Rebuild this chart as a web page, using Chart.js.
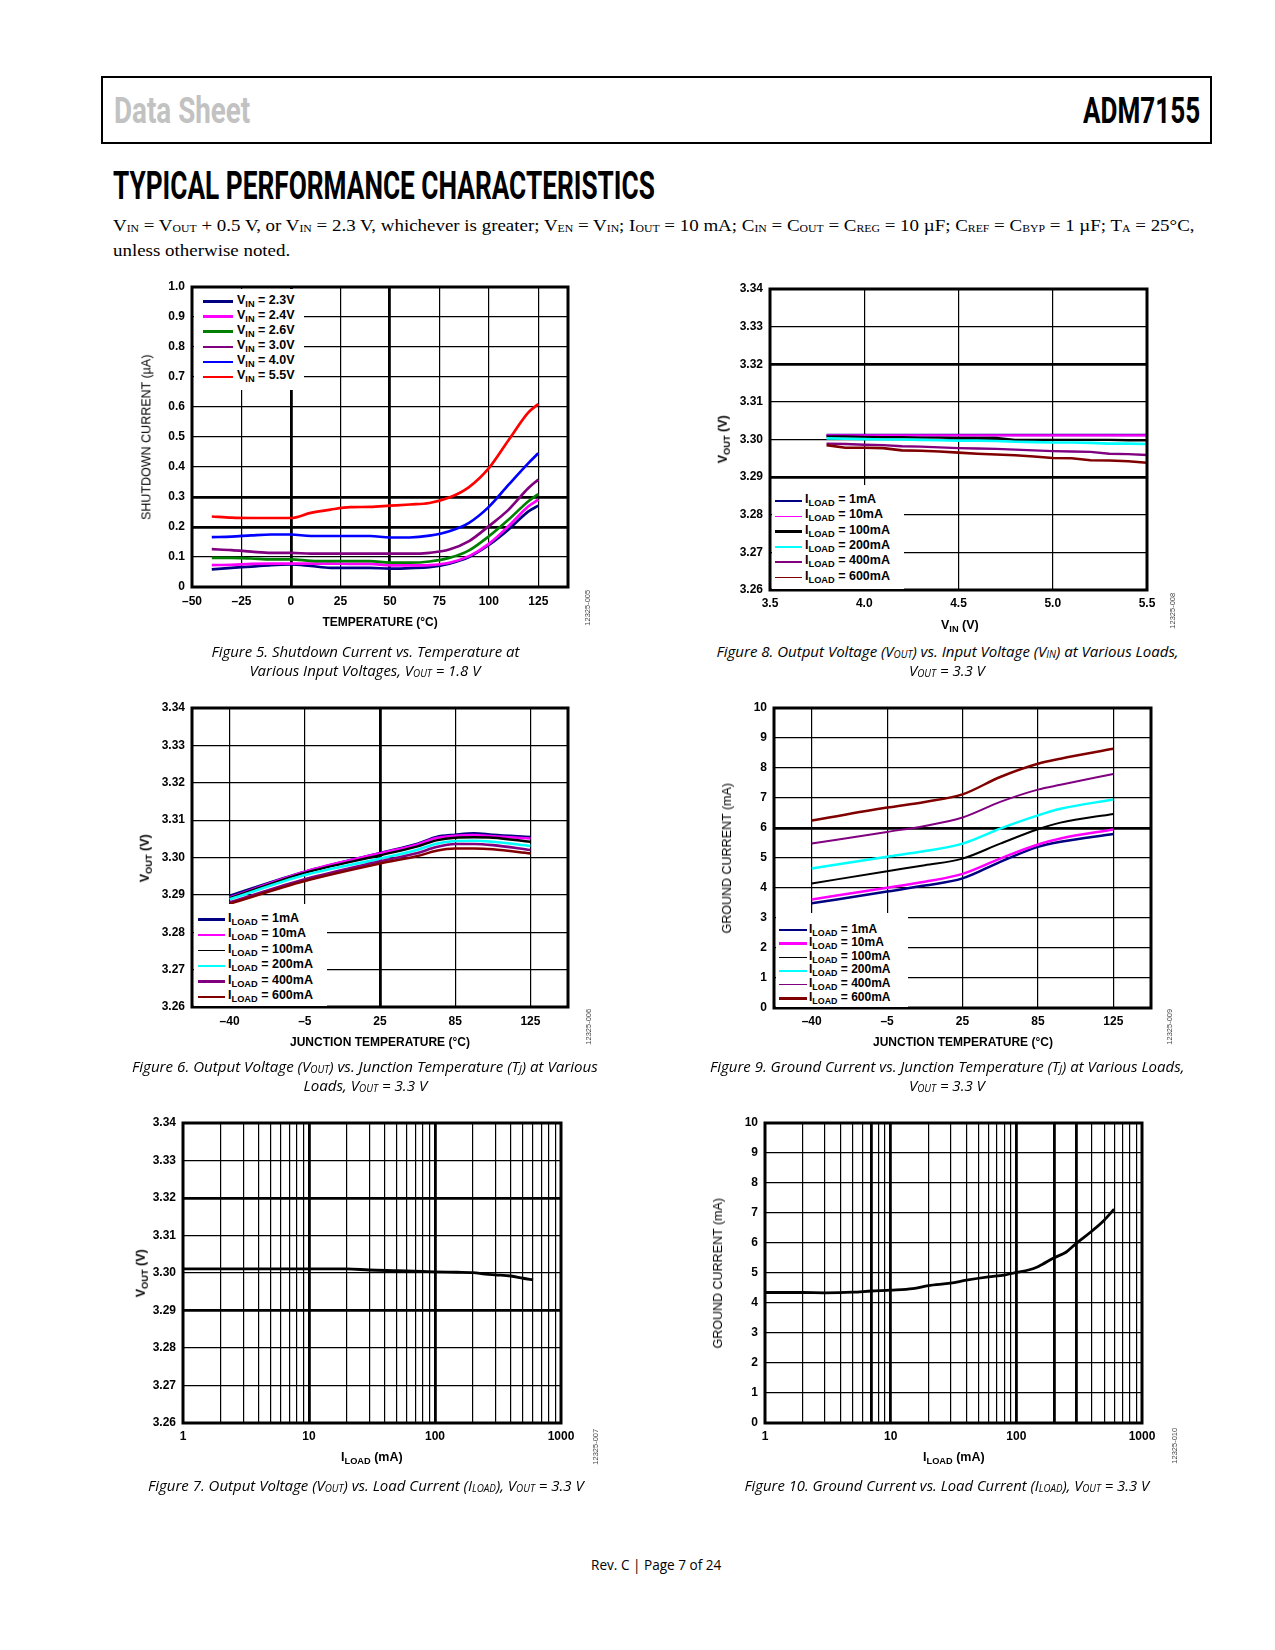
<!DOCTYPE html>
<html><head><meta charset="utf-8">
<script src="https://cdn.jsdelivr.net/npm/chart.js@4.4.1/dist/chart.umd.min.js"></script>
<style>
html,body{margin:0;padding:0;background:#fff;}
#page{position:relative;width:1275px;height:1650px;overflow:hidden;background:#fff;}
.abs{position:absolute;white-space:nowrap;line-height:1;}
.chart{position:absolute;}
.s{font-size:0.74em;vertical-align:-0.3em;line-height:0;}
.cs{font-size:0.66em;vertical-align:-0.1em;line-height:0;}
.ts{font-size:0.62em;vertical-align:-0.06em;line-height:0;}
.legend{position:absolute;background:#fff;}
</style></head><body><div id="page"></div>
<script>
// ---------------- DATA ----------------
// Figure 5: shutdown current (uA) vs temperature (C)
const F5_TEMP = [-40,-30,-20,-10,0,10,20,30,40,50,60,70,80,90,100,110,120,125];
const F5_VIN_2V3 = [0.059,0.064,0.068,0.073,0.075,0.070,0.064,0.064,0.064,0.061,0.063,0.066,0.078,0.100,0.140,0.192,0.252,0.271];
const F5_VIN_2V4 = [0.073,0.074,0.077,0.078,0.078,0.078,0.078,0.077,0.077,0.072,0.072,0.073,0.081,0.103,0.144,0.203,0.269,0.291];
const F5_VIN_2V6 = [0.097,0.097,0.095,0.092,0.092,0.087,0.086,0.086,0.086,0.081,0.081,0.085,0.097,0.122,0.169,0.225,0.286,0.310];
const F5_VIN_3V0 = [0.126,0.123,0.118,0.114,0.114,0.111,0.111,0.111,0.111,0.111,0.111,0.114,0.125,0.153,0.203,0.258,0.330,0.358];
const F5_VIN_4V0 = [0.166,0.168,0.172,0.175,0.175,0.170,0.170,0.170,0.170,0.165,0.165,0.171,0.186,0.214,0.267,0.341,0.413,0.446];
const F5_VIN_5V5 = [0.235,0.231,0.230,0.230,0.230,0.247,0.258,0.266,0.267,0.271,0.275,0.280,0.298,0.333,0.396,0.490,0.582,0.610];
const F5_NAMES = ['2.3V','2.4V','2.6V','3.0V','4.0V','5.5V'];
const F5_XTICKS = [-50,-25,0,25,50,75,100,125];
const F5_YTICKS = [0,0.1,0.2,0.3,0.4,0.5,0.6,0.7,0.8,0.9,1.0];

// Figure 8: VOUT (V) vs VIN (V)
const F8_VIN = [3.8,3.9,4.0,4.1,4.2,4.3,4.4,4.5,4.6,4.7,4.8,4.9,5.0,5.1,5.2,5.3,5.4,5.5];
const F8_1MA   = [3.3012,3.3012,3.3012,3.3012,3.3012,3.3012,3.3012,3.3012,3.3012,3.3012,3.3012,3.3012,3.3012,3.3012,3.3012,3.3012,3.3012,3.3012];
const F8_10MA  = [3.3011,3.3011,3.3011,3.3011,3.3011,3.3011,3.3011,3.3011,3.3011,3.3011,3.3011,3.3011,3.3011,3.3011,3.3011,3.3011,3.3011,3.3011];
const F8_100MA = [3.3008,3.3008,3.3007,3.3006,3.3006,3.3005,3.3005,3.3004,3.3004,3.3004,3.2999,3.2999,3.2999,3.2999,3.2999,3.2999,3.2998,3.2998];
const F8_200MA = [3.3003,3.3002,3.3001,3.3000,3.3000,3.2999,3.2998,3.2997,3.2997,3.2996,3.2994,3.2993,3.2992,3.2992,3.2991,3.2989,3.2989,3.2988];
const F8_400MA = [3.2989,3.2988,3.2986,3.2985,3.2982,3.2981,3.2979,3.2977,3.2976,3.2975,3.2973,3.2971,3.2969,3.2968,3.2967,3.2962,3.2961,3.2959];
const F8_600MA = [3.2985,3.2978,3.2978,3.2977,3.2971,3.2970,3.2968,3.2965,3.2962,3.2960,3.2958,3.2955,3.2951,3.2950,3.2945,3.2944,3.2942,3.2938];
const LOAD_NAMES = ['1mA','10mA','100mA','200mA','400mA','600mA'];
const F8_XTICKS = [3.5,4.0,4.5,5.0,5.5];
const VOUT_YTICKS = [3.26,3.27,3.28,3.29,3.30,3.31,3.32,3.33,3.34];

// Figure 6: VOUT (V) vs junction temperature (position along the evenly spaced TJ axis)
const TJ_LABELS = ['\u201340','\u20135','25','85','125'];
const TJ_TICKS = [0,1,2,3,4];
const F6_POS = [0,1,2,2.5,2.75,3,3.25,3.5,4];
const F6_1MA   = [3.2898,3.2962,3.3012,3.3037,3.3055,3.3061,3.3065,3.3061,3.3055];
const F6_10MA  = [3.2893,3.2962,3.3011,3.3035,3.3052,3.3058,3.3060,3.3057,3.3051];
const F6_100MA = [3.2891,3.2959,3.3006,3.3030,3.3046,3.3053,3.3054,3.3053,3.3042];
const F6_200MA = [3.2888,3.2953,3.2997,3.3021,3.3037,3.3044,3.3045,3.3042,3.3031];
const F6_400MA = [3.2880,3.2942,3.2990,3.3012,3.3028,3.3036,3.3036,3.3033,3.3020];
const F6_600MA = [3.2876,3.2937,3.2984,3.3004,3.3018,3.3024,3.3024,3.3022,3.3011];

// Figure 9: ground current (mA) vs junction temperature
const F9_POS = [0,1,1.5,2,2.5,3,3.3,4];
const F9_1MA   = [3.49,3.88,4.08,4.32,4.87,5.37,5.54,5.80];
const F9_10MA  = [3.62,4.01,4.21,4.47,4.98,5.45,5.65,5.95];
const F9_100MA = [4.15,4.56,4.76,4.98,5.48,5.96,6.18,6.47];
const F9_200MA = [4.65,5.04,5.23,5.48,5.98,6.42,6.64,6.95];
const F9_400MA = [5.48,5.87,6.07,6.35,6.87,7.28,7.44,7.80];
const F9_600MA = [6.25,6.68,6.87,7.12,7.70,8.14,8.31,8.64];
const GND_YTICKS = [0,1,2,3,4,5,6,7,8,9,10];

// Figure 7: VOUT (V) vs ILOAD (mA)
const F7_LOAD = [1,2,5,10,20,30,50,80,100,150,200,250,300,400,500,600];
const F7_VOUT = [3.3011,3.3011,3.3011,3.3011,3.3011,3.3008,3.3006,3.3004,3.3003,3.3002,3.3001,3.2997,3.2995,3.2992,3.2986,3.2982];

// Figure 10: ground current (mA) vs ILOAD (mA)
const F10_LOAD = [1,2,3,5,7,10,15,20,30,40,60,80,100,125,150,200,250,300,400,500,600];
const F10_IGND = [4.35,4.35,4.34,4.36,4.40,4.43,4.48,4.58,4.66,4.76,4.87,4.93,5.02,5.10,5.22,5.51,5.70,5.99,6.40,6.76,7.13];
const LOG_TICKS = [1,2,3,4,5,6,7,8,9,10,20,30,40,50,60,70,80,90,100,200,300,400,500,600,700,800,900,1000];
const LOG_LABELS = [1,10,100,1000];

// ---------------- HELPERS ----------------
const page = document.getElementById('page');
const AR = "'Liberation Sans', Arial, sans-serif";
Chart.defaults.font.family = AR;
Chart.defaults.color = '#000';

function addText(html, o) {
  const d = document.createElement('div');
  d.className = 'abs';
  d.innerHTML = html;
  const st = d.style;
  st.fontFamily = o.font || AR;
  st.fontSize = (o.size || 12) + 'px';
  st.fontWeight = o.weight || 'normal';
  st.fontStyle = o.italic ? 'italic' : 'normal';
  st.color = o.color || '#000';
  page.appendChild(d);
  const w = d.offsetWidth, h = d.offsetHeight;
  const k = o.w ? o.w / w : (o.k || 1);
  const left = o.anchor === 'left' ? o.x : o.x - w / 2;
  st.left = left + 'px';
  st.top = (o.y - h / 2) + 'px';
  st.transformOrigin = o.anchor === 'left' ? '0 50%' : '50% 50%';
  const parts = [];
  if (o.rotate) parts.push('rotate(' + o.rotate + 'deg)');
  if (k !== 1) parts.push('scaleX(' + k + ')');
  st.transform = parts.join(' ');
  return k;
}

const near = (a, b) => Math.abs(a - b) < 1e-9;
const framePlugin = {
  id: 'frame',
  afterDatasetsDraw(chart) {
    const { ctx, chartArea: a } = chart;
    ctx.save();
    ctx.strokeStyle = '#000';
    ctx.lineWidth = 3;
    ctx.strokeRect(a.left, a.top, a.right - a.left, a.bottom - a.top);
    ctx.restore();
  }
};

function series(xs, ys, color, width, tension) {
  return { data: xs.map((x, i) => ({ x: x, y: ys[i] })), borderColor: color, backgroundColor: color,
    borderWidth: width, pointRadius: 0, fill: false,
    tension: tension, cubicInterpolationMode: tension ? 'monotone' : 'default' };
}

function makeChart(o) {
  const padL = 70, padT = 10, padR = 26, padB = 40;
  const div = document.createElement('div');
  div.className = 'chart';
  Object.assign(div.style, { left: (o.L - padL) + 'px', top: (o.T - padT) + 'px',
    width: (o.R - o.L + padL + padR) + 'px', height: (o.B - o.T + padT + padB) + 'px' });
  const cv = document.createElement('canvas');
  div.appendChild(cv);
  page.appendChild(div);
  const n = o.datasets.length;
  o.datasets.forEach((d, i) => { d.order = n - i; });
  const tickFont = { family: AR, size: 12, weight: 'bold' };
  const zero = s => { s.paddingLeft = 0; s.paddingRight = 0; s.paddingTop = 0; s.paddingBottom = 0; };
  new Chart(cv, {
    type: 'line',
    data: { datasets: o.datasets },
    options: {
      responsive: true, maintainAspectRatio: false, animation: false,
      layout: { padding: { left: 0, top: padT, right: padR, bottom: 0 } },
      plugins: { legend: { display: false }, tooltip: { enabled: false } },
      scales: {
        x: {
          type: o.xType || 'linear', min: o.xMin, max: o.xMax,
          afterBuildTicks: s => { s.ticks = o.xTicks.map(v => ({ value: v })); s.min = o.xMin; s.max = o.xMax; },
          afterFit: s => { s.height = padB; zero(s); },
          ticks: { callback: o.xLabel, font: tickFont, color: '#000', padding: o.xPad || 6,
            autoSkip: false, maxRotation: 0, minRotation: 0 },
          grid: { color: '#000', drawTicks: false,
            lineWidth: c => (c.tick && o.xBold.some(b => near(b, c.tick.value))) ? 2.8 : 1.2 },
          border: { display: false }
        },
        y: {
          type: 'linear', min: o.yMin, max: o.yMax,
          afterBuildTicks: s => { s.ticks = o.yTicks.map(v => ({ value: v })); s.min = o.yMin; s.max = o.yMax; },
          afterFit: s => { s.width = padL; zero(s); },
          ticks: { callback: o.yLabel, font: tickFont, color: '#000', padding: 7, autoSkip: false },
          grid: { color: '#000', drawTicks: false,
            lineWidth: c => (c.tick && o.yBold.some(b => near(b, c.tick.value))) ? 2.8 : 1.2 },
          border: { display: false }
        }
      }
    },
    plugins: [framePlugin]
  });
}

function addLegend(o) {
  const box = document.createElement('div');
  box.className = 'legend';
  Object.assign(box.style, { left: o.x0 + 'px', top: o.y0 + 'px', width: (o.x1 - o.x0) + 'px', height: (o.y1 - o.y0) + 'px' });
  page.appendChild(box);
  o.rows.forEach((r, i) => {
    const y = o.rowY0 + i * o.dy;
    const ln = document.createElement('div');
    Object.assign(ln.style, { position: 'absolute', left: o.sx0 + 'px', top: (y - r.w / 2) + 'px',
      width: (o.sx1 - o.sx0) + 'px', height: r.w + 'px', background: r.color });
    page.appendChild(ln);
    addText(r.html, { x: o.tx, y: y - 1.5, anchor: 'left', size: o.size, weight: 'bold' });
  });
}

const C = { navy: '#000080', mag: '#ff00ff', green: '#008000', purple: '#800080', blue: '#0000ff', red: '#ff0000',
  black: '#000000', cyan: '#00ffff', brown: '#800000' };
const vLbl = v => v.toFixed(2);
const intLbl = v => String(v);
const logLbl = v => LOG_LABELS.includes(v) ? String(v) : '';
const tjLbl = v => TJ_LABELS[v];
const iload = n => 'I<span class="s">LOAD</span> = ' + n;

// ---------------- HEADER ----------------
const hb = document.createElement('div');
Object.assign(hb.style, { position: 'absolute', left: '101px', top: '76px', width: '1111px', height: '68px',
  border: '2px solid #000', boxSizing: 'border-box' });
page.appendChild(hb);
addText('Data Sheet', { x: 114, y: 110.5, anchor: 'left', size: 37, weight: 'bold', font: 'Roboto, sans-serif', color: '#c2c2c2', w: 136 });
addText('ADM7155', { x: 1083, y: 110.5, anchor: 'left', size: 37, weight: 'bold', font: 'Roboto, sans-serif', w: 117 });
addText('TYPICAL PERFORMANCE CHARACTERISTICS', { x: 113, y: 186, anchor: 'left', size: 38, weight: 'bold', font: 'Roboto, sans-serif', w: 542 });
const SER = "'Liberation Serif', 'Times New Roman', serif";
const kSub = addText('V<span class="ts">IN</span> = V<span class="ts">OUT</span> + 0.5 V, or V<span class="ts">IN</span> = 2.3 V, whichever is greater; V<span class="ts">EN</span> = V<span class="ts">IN</span>; I<span class="ts">OUT</span> = 10 mA; C<span class="ts">IN</span> = C<span class="ts">OUT</span> = C<span class="ts">REG</span> = 10 \u00b5F; C<span class="ts">REF</span> = C<span class="ts">BYP</span> = 1 \u00b5F; T<span class="ts">A</span> = 25\u00b0C,',
  { x: 113, y: 226, anchor: 'left', size: 17.5, font: SER, w: 1082 });
addText('unless otherwise noted.', { x: 113, y: 251, anchor: 'left', size: 17.5, font: SER, k: kSub });

// ---------------- FIGURE 5 ----------------
makeChart({ L: 192, T: 287, R: 568, B: 587, xMin: -50, xMax: 140, yMin: 0, yMax: 1.0,
  xTicks: F5_XTICKS, yTicks: F5_YTICKS, xBold: [0, 50], yBold: [0.2, 0.3], xPad: 7,
  xLabel: v => v < 0 ? '\u2013' + Math.abs(v) : String(v), yLabel: v => v === 0 ? '0' : v.toFixed(1),
  datasets: [
    series(F5_TEMP, F5_VIN_2V3, C.navy, 2.7, 0.3), series(F5_TEMP, F5_VIN_2V4, C.mag, 2.7, 0.3),
    series(F5_TEMP, F5_VIN_2V6, C.green, 2.7, 0.3), series(F5_TEMP, F5_VIN_3V0, C.purple, 2.7, 0.3),
    series(F5_TEMP, F5_VIN_4V0, C.blue, 2.7, 0.3), series(F5_TEMP, F5_VIN_5V5, C.red, 2.7, 0.3)] });
addLegend({ x0: 193.5, y0: 288.5, x1: 304, y1: 390, sx0: 203, sx1: 233, tx: 237, rowY0: 301.5, dy: 15.1, size: 12.5,
  rows: [C.navy, C.mag, C.green, C.purple, C.blue, C.red].map((c, i) => ({ color: c, w: 2.6, html: 'V<span class="s">IN</span> = ' + F5_NAMES[i] })) });
addText('SHUTDOWN CURRENT (\u00b5A)', { x: 146, y: 437, size: 12.5, rotate: -90, color: '#000' });
addText('TEMPERATURE (\u00b0C)', { x: 380, y: 622, size: 12, weight: 'bold' });

// ---------------- FIGURE 8 ----------------
makeChart({ L: 770, T: 289, R: 1147, B: 590, xMin: 3.5, xMax: 5.5, yMin: 3.26, yMax: 3.34,
  xTicks: F8_XTICKS, yTicks: VOUT_YTICKS, xBold: [], yBold: [3.29, 3.32],
  xLabel: v => v.toFixed(1), yLabel: vLbl,
  datasets: [
    series(F8_VIN, F8_1MA, C.navy, 2.6, 0), series(F8_VIN, F8_10MA, C.mag, 2.4, 0),
    series(F8_VIN, F8_100MA, C.black, 2.4, 0), series(F8_VIN, F8_200MA, C.cyan, 2.6, 0),
    series(F8_VIN, F8_400MA, C.purple, 2.4, 0), series(F8_VIN, F8_600MA, C.brown, 2.6, 0)] });
addLegend({ x0: 771.5, y0: 485, x1: 904, y1: 588.5, sx0: 775, sx1: 802, tx: 805, rowY0: 501, dy: 15.3, size: 12.5,
  rows: [[C.navy, 2.7], [C.mag, 1.5], [C.black, 2.6], [C.cyan, 2.6], [C.purple, 2.3], [C.brown, 1.6]].map((r, i) => ({ color: r[0], w: r[1], html: iload(LOAD_NAMES[i]) })) });
addText('V<span class="s">OUT</span> (V)', { x: 723, y: 439, size: 12.5, weight: 'bold', rotate: -90 });
addText('V<span class="s">IN</span> (V)', { x: 960, y: 625, size: 12.5, weight: 'bold' });

// ---------------- FIGURE 6 ----------------
makeChart({ L: 192, T: 708, R: 568, B: 1007, xMin: -0.5, xMax: 4.5, yMin: 3.26, yMax: 3.34,
  xTicks: TJ_TICKS, yTicks: VOUT_YTICKS, xBold: [2], yBold: [], xPad: 7,
  xLabel: tjLbl, yLabel: vLbl,
  datasets: [
    series(F6_POS, F6_1MA, C.navy, 2.6, 0.3), series(F6_POS, F6_10MA, C.mag, 2.6, 0.3),
    series(F6_POS, F6_100MA, C.black, 2.4, 0.3), series(F6_POS, F6_200MA, C.cyan, 2.6, 0.3),
    series(F6_POS, F6_400MA, C.purple, 2.6, 0.3), series(F6_POS, F6_600MA, C.brown, 2.6, 0.3)] });
addLegend({ x0: 193.5, y0: 904, x1: 327, y1: 1005.5, sx0: 198, sx1: 225, tx: 228, rowY0: 919.5, dy: 15.5, size: 12.5,
  rows: [[C.navy, 2.6], [C.mag, 2.6], [C.black, 1.6], [C.cyan, 1.7], [C.purple, 2.4], [C.brown, 2.4]].map((r, i) => ({ color: r[0], w: r[1], html: iload(LOAD_NAMES[i]) })) });
addText('V<span class="s">OUT</span> (V)', { x: 145, y: 858, size: 12.5, weight: 'bold', rotate: -90 });
addText('JUNCTION TEMPERATURE (\u00b0C)', { x: 380, y: 1042, size: 12, weight: 'bold' });

// ---------------- FIGURE 9 ----------------
makeChart({ L: 774, T: 708, R: 1151, B: 1008, xMin: -0.5, xMax: 4.5, yMin: 0, yMax: 10,
  xTicks: TJ_TICKS, yTicks: GND_YTICKS, xBold: [], yBold: [6],
  xLabel: tjLbl, yLabel: intLbl,
  datasets: [
    series(F9_POS, F9_1MA, C.navy, 2.5, 0.3), series(F9_POS, F9_10MA, C.mag, 2.5, 0.3),
    series(F9_POS, F9_100MA, C.black, 2.0, 0.3), series(F9_POS, F9_200MA, C.cyan, 2.5, 0.3),
    series(F9_POS, F9_400MA, C.purple, 2.0, 0.3), series(F9_POS, F9_600MA, C.brown, 2.5, 0.3)] });
addLegend({ x0: 775.5, y0: 913, x1: 908, y1: 1006.5, sx0: 779, sx1: 807, tx: 809, rowY0: 930, dy: 13.65, size: 12,
  rows: [[C.navy, 2.6], [C.mag, 2.4], [C.black, 1.5], [C.cyan, 2.5], [C.purple, 1.5], [C.brown, 2.5]].map((r, i) => ({ color: r[0], w: r[1], html: iload(LOAD_NAMES[i]) })) });
addText('GROUND CURRENT (mA)', { x: 727, y: 858, size: 12.5, rotate: -90 });
addText('JUNCTION TEMPERATURE (\u00b0C)', { x: 963, y: 1042, size: 12, weight: 'bold' });

// ---------------- FIGURE 7 ----------------
makeChart({ L: 183, T: 1123, R: 561, B: 1423, xType: 'logarithmic', xMin: 1, xMax: 1000, yMin: 3.26, yMax: 3.34,
  xTicks: LOG_TICKS, yTicks: VOUT_YTICKS, xBold: [10, 100], yBold: [3.29, 3.32],
  xLabel: logLbl, yLabel: vLbl,
  datasets: [series(F7_LOAD, F7_VOUT, C.black, 2.8, 0.2)] });
addText('V<span class="s">OUT</span> (V)', { x: 141, y: 1273, size: 12.5, weight: 'bold', rotate: -90 });
addText('I<span class="s">LOAD</span> (mA)', { x: 372, y: 1457, size: 12.5, weight: 'bold' });

// ---------------- FIGURE 10 ----------------
makeChart({ L: 765, T: 1123, R: 1142, B: 1423, xType: 'logarithmic', xMin: 1, xMax: 1000, yMin: 0, yMax: 10,
  xTicks: LOG_TICKS, yTicks: GND_YTICKS, xBold: [7, 10, 100, 200, 300], yBold: [],
  xLabel: logLbl, yLabel: intLbl,
  datasets: [series(F10_LOAD, F10_IGND, C.black, 2.8, 0.3)] });
addText('GROUND CURRENT (mA)', { x: 718, y: 1273, size: 12.5, rotate: -90 });
addText('I<span class="s">LOAD</span> (mA)', { x: 954, y: 1457, size: 12.5, weight: 'bold' });

// ---------------- CAPTIONS ----------------
const CAP = { font: "'Open Sans', sans-serif", size: 15, italic: true, color: '#000' };
function caption(lines, cx, ys, w) {
  const k = addText(lines[0], Object.assign({ x: cx, y: ys[0], w: w }, CAP));
  if (lines[1]) addText(lines[1], Object.assign({ x: cx, y: ys[1], k: k }, CAP));
}
const VO = 'V<span class="cs">OUT</span>';
caption(['Figure 5. Shutdown Current vs. Temperature at', 'Various Input Voltages, ' + VO + ' = 1.8 V'], 365, [651, 670], 308);
caption(['Figure 8. Output Voltage (' + VO + ') vs. Input Voltage (V<span class="cs">IN</span>) at Various Loads,', VO + ' = 3.3 V'], 947, [651, 670], 462);
caption(['Figure 6. Output Voltage (' + VO + ') vs. Junction Temperature (T<span class="cs">J</span>) at Various', 'Loads, ' + VO + ' = 3.3 V'], 365, [1066, 1085], 466);
caption(['Figure 9. Ground Current vs. Junction Temperature (T<span class="cs">J</span>) at Various Loads,', VO + ' = 3.3 V'], 947, [1066, 1085], 474);
caption(['Figure 7. Output Voltage (' + VO + ') vs. Load Current (I<span class="cs">LOAD</span>), ' + VO + ' = 3.3 V'], 366, [1485], 436);
caption(['Figure 10. Ground Current vs. Load Current (I<span class="cs">LOAD</span>), ' + VO + ' = 3.3 V'], 947, [1485], 405);

// ---------------- ID TAGS & FOOTER ----------------
[['12325-005', 588, 608], ['12325-008', 1173, 611], ['12325-006', 589, 1027], ['12325-009', 1170, 1027],
 ['12325-007', 596, 1447], ['12325-010', 1175, 1446]].forEach(t =>
  addText(t[0], { x: t[1], y: t[2], size: 7.5, color: '#444', rotate: -90 }));
addText('Rev. C | Page 7 of 24', { x: 656, y: 1565, size: 14, font: "'Open Sans', sans-serif", color: '#000', w: 130 });
</script></body></html>
